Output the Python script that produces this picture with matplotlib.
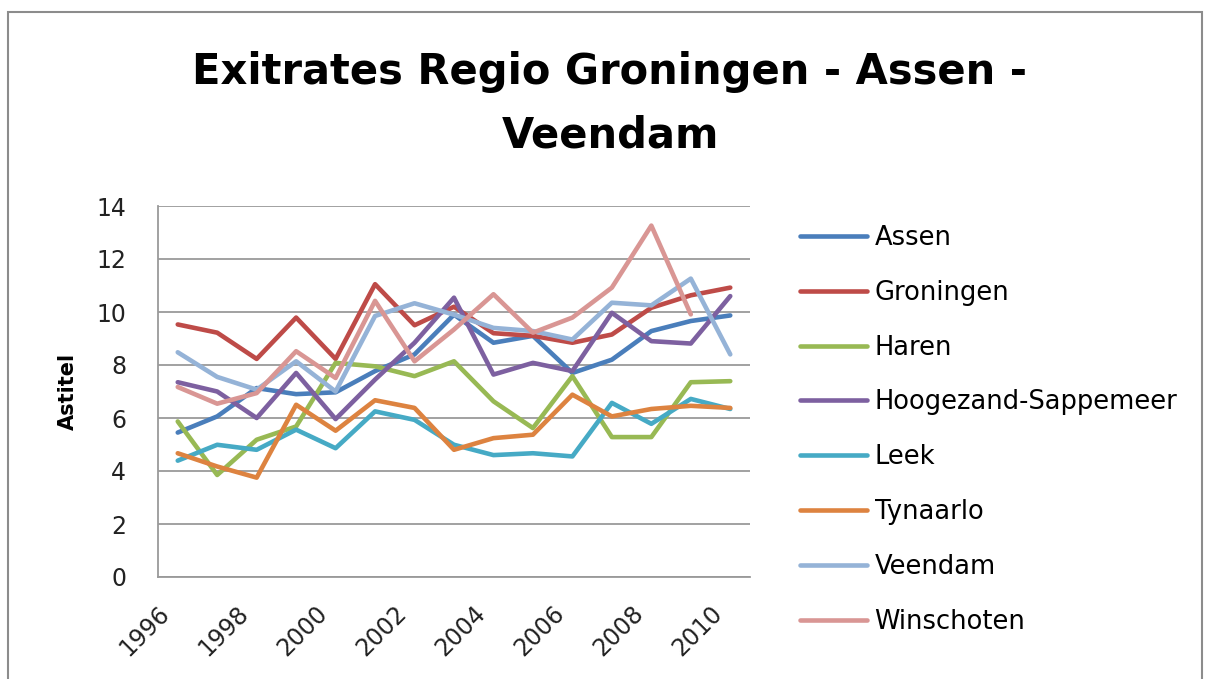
import numpy as np
import matplotlib
matplotlib.use('Agg')
import matplotlib.pyplot as plt
import matplotlib.transforms as mtransforms
from matplotlib.patches import Rectangle

years = list(range(1996, 2011))
assen = [5.45, 6.06, 7.13, 6.90, 6.97, 7.77, 8.40, 9.90, 8.84, 9.10, 7.70, 8.20, 9.28, 9.66, 9.87]
groningen = [9.53, 9.22, 8.23, 9.79, 8.23, 11.05, 9.50, 10.20, 9.20, 9.10, 8.84, 9.15, 10.16, 10.63, 10.92]
haren = [5.87, 3.85, 5.18, 5.68, 8.08, 7.95, 7.58, 8.14, 6.63, 5.62, 7.58, 5.28, 5.28, 7.35, 7.39]
hoogezand = [7.35, 7.00, 6.00, 7.70, 5.96, 7.45, 8.84, 10.54, 7.64, 8.08, 7.77, 9.97, 8.90, 8.81, 10.60]
leek = [4.39, 4.99, 4.80, 5.56, 4.86, 6.25, 5.93, 4.99, 4.60, 4.67, 4.55, 6.57, 5.78, 6.72, 6.34]
tynaarlo = [4.67, 4.17, 3.75, 6.50, 5.52, 6.67, 6.38, 4.80, 5.24, 5.37, 6.88, 6.06, 6.34, 6.46, 6.38]
veendam = [8.48, 7.55, 7.07, 8.14, 7.00, 9.85, 10.33, 9.90, 9.40, 9.28, 8.96, 10.35, 10.25, 11.26, 8.40]
winschoten = [7.17, 6.54, 6.94, 8.52, 7.51, 10.42, 8.14, 9.34, 10.67, 9.22, 9.79, 10.92, 13.26, 9.91, np.nan]

names = ['Assen', 'Groningen', 'Haren', 'Hoogezand-Sappemeer', 'Leek',
         'Tynaarlo', 'Veendam', 'Winschoten']
series = [assen, groningen, haren, hoogezand, leek, tynaarlo, veendam, winschoten]
colors = ['#4A7EBB', '#BE4B48', '#98B954', '#7D60A0', '#46AAC5',
          '#DD8340', '#95B3D7', '#D99694']

plt.rcParams['font.family'] = ['DejaVu Sans']

fig = plt.figure(figsize=(12.05, 6.79), dpi=100)
W, H = 1205, 679
# plot area in pixels: x 158..750, y 206..577
ax = fig.add_axes([158/W, 1 - 577/H, (750-158)/W, (577-206)/H])

for vals, name, c in zip(series, names, colors):
    ax.plot(years, vals, color=c, lw=3.3, label=name, solid_capstyle='round')

ax.set_xlim(1995.5, 2010.5)
ax.set_ylim(0, 14)
ax.set_yticks(range(0, 15, 2))
ax.set_xticks(years[::2])
ax.grid(axis='y', color='#9a9a9a', lw=1.3)
ax.set_axisbelow(True)
for s in ['top', 'right']:
    ax.spines[s].set_visible(False)
for s in ['left', 'bottom']:
    ax.spines[s].set_color('#9a9a9a')
    ax.spines[s].set_linewidth(1.3)
ax.tick_params(axis='y', length=0, labelsize=17, colors='#222222', pad=23)
ax.tick_params(axis='x', length=0, labelsize=17, colors='#222222', pad=10)
shift = mtransforms.ScaledTranslation(-0.2, -0.1, fig.dpi_scale_trans)
for lab in ax.get_xticklabels():
    lab.set_rotation(45)
    lab.set_ha('right')
    lab.set_va('top')
    lab.set_rotation_mode('anchor')
    lab.set_transform(lab.get_transform() + shift)
ax.set_ylabel('Astitel', fontsize=15, fontweight='bold', labelpad=13)

leg = fig.legend(loc='upper left', bbox_to_anchor=(777/W, 1 - 202/H),
                 frameon=False, fontsize=18.5, handlelength=2.6,
                 handletextpad=0.3, labelspacing=1.12)

fig.text(610/W, 1 - 72/H, 'Exitrates Regio Groningen - Assen -',
         ha='center', va='center', fontsize=30, fontweight='bold')
fig.text(610/W, 1 - 135/H, 'Veendam',
         ha='center', va='center', fontsize=30, fontweight='bold')

fig.patches.append(Rectangle((8/W, -0.05), (1202-8)/W, 1 - 12/H + 0.05,
                             transform=fig.transFigure, fill=False,
                             ec='#8c8c8c', lw=1.5))

fig.savefig('out.png', dpi=100)
